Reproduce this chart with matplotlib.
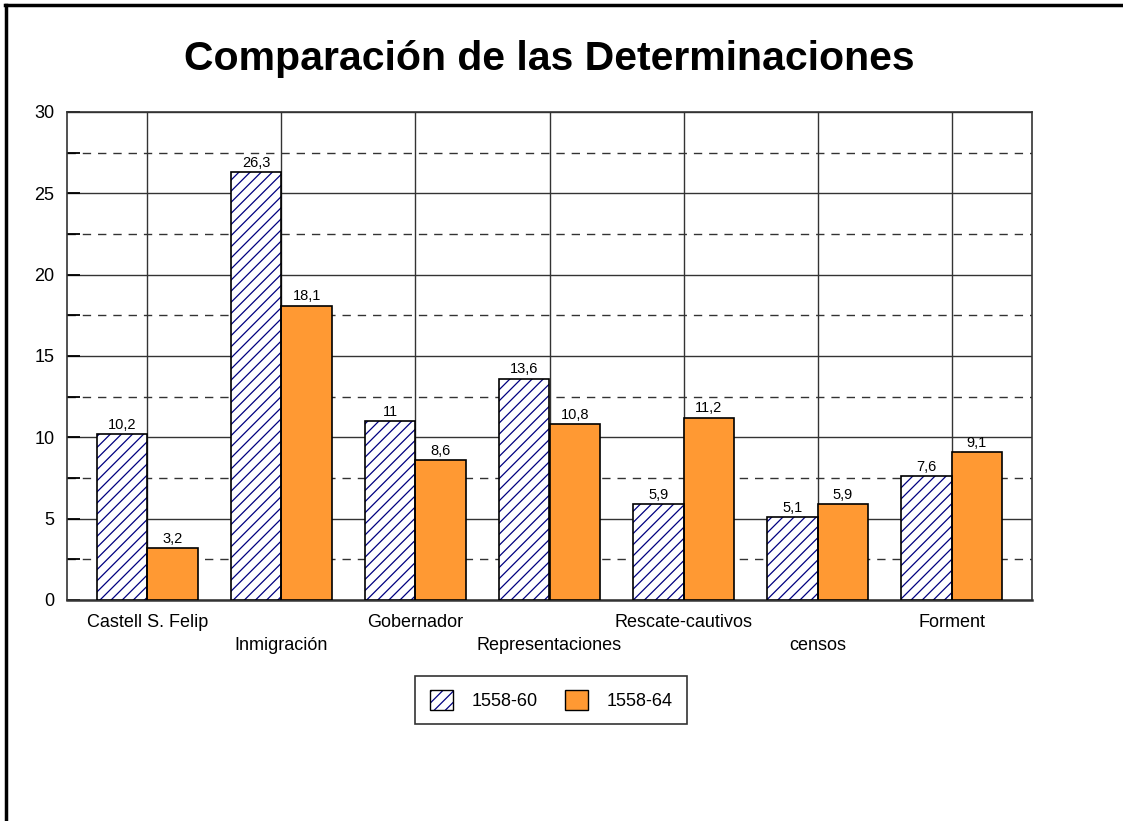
import numpy as np
import matplotlib.pyplot as plt
from matplotlib.lines import Line2D
from matplotlib.patches import Patch

categories = ['Castell S. Felip', 'Inmigración', 'Gobernador', 'Representaciones',
              'Rescate-cautivos', 'censos', 'Forment']
serie_1558_60 = [10.2, 26.3, 11, 13.6, 5.9, 5.1, 7.6]
serie_1558_64 = [3.2, 18.1, 8.6, 10.8, 11.2, 5.9, 9.1]
series_names = ['1558-60', '1558-64']

plt.rcParams['font.family'] = ['Liberation Sans', 'DejaVu Sans']
plt.rcParams['hatch.linewidth'] = 0.9

fig = plt.figure(figsize=(11.23, 8.21), dpi=100)
ax = fig.add_axes([67 / 1123, 1 - 600 / 821, (1032 - 67) / 1123, (600 - 112) / 821])

x = np.arange(len(categories))
w = 0.375
navy = '#000080'
orange = '#FF9933'

# hatched series: hatch drawn in navy, outline drawn separately in black
ax.bar(x - w / 2, serie_1558_60, w, facecolor='white', edgecolor=navy,
       hatch='///', linewidth=0, zorder=3)
ax.bar(x - w / 2, serie_1558_60, w, fill=False, edgecolor='black',
       linewidth=1.2, zorder=4)
ax.bar(x + w / 2, serie_1558_64, w, facecolor=orange, edgecolor='black',
       linewidth=1.2, zorder=3)

def fmt(v):
    return f"{v:g}".replace('.', ',')

for xi, v in zip(x - w / 2, serie_1558_60):
    ax.text(xi, v + 0.15, fmt(v), ha='center', va='bottom', fontsize=10.5, zorder=5)
for xi, v in zip(x + w / 2, serie_1558_64):
    ax.text(xi, v + 0.15, fmt(v), ha='center', va='bottom', fontsize=10.5, zorder=5)

ax.set_xlim(-0.6, len(categories) - 0.4)
ax.set_ylim(0, 30)
ax.set_yticks(np.arange(0, 31, 5))
ax.set_yticks(np.arange(2.5, 30, 5), minor=True)
ax.tick_params(axis='y', which='both', direction='in', length=9, width=1.3,
               labelsize=13, pad=9)
ax.set_xticks(x)
ax.set_xticklabels([c if i % 2 == 0 else '\n' + c for i, c in enumerate(categories)],
                   fontsize=13, linespacing=1.45)
ax.tick_params(axis='x', length=0, pad=10)

ax.grid(axis='y', which='major', color='#333333', linewidth=1, linestyle='-', zorder=0)
ax.grid(axis='y', which='minor', color='#333333', linewidth=1, linestyle=(0, (6, 5)), zorder=0)
ax.grid(axis='x', which='major', color='#333333', linewidth=1, linestyle='-', zorder=0)
ax.set_axisbelow(True)
for s in ax.spines.values():
    s.set_color('#333333')
    s.set_linewidth(1.2)
ax.spines['bottom'].set_linewidth(1.8)

fig.text(0.489, 0.928, 'Comparación de las Determinaciones', ha='center', va='center',
         fontsize=29.5, fontweight='bold')

h1 = (Patch(facecolor='white', edgecolor=navy, hatch='///', linewidth=0),
      Patch(fill=False, edgecolor='black', linewidth=1))
h2 = Patch(facecolor=orange, edgecolor='black', linewidth=1)
leg = fig.legend([h1, h2], series_names, loc='center', bbox_to_anchor=(551 / 1123, 1 - 700 / 821),
                 ncol=2, fontsize=13, frameon=True, fancybox=False, edgecolor='black',
                 handlelength=1.3, handleheight=1.3, columnspacing=1.5, borderpad=0.8,
                 handletextpad=1.0)
leg.get_frame().set_linewidth(1.2)

# outer border (top and left only visible)
fig.add_artist(Line2D([6 / 1123, 6 / 1123], [0, 1 - 5 / 821], color='black', linewidth=2.5,
                      transform=fig.transFigure))
fig.add_artist(Line2D([5 / 1123, 1], [1 - 5 / 821, 1 - 5 / 821], color='black', linewidth=2.5,
                      transform=fig.transFigure))

fig.savefig('out.png', dpi=100)
